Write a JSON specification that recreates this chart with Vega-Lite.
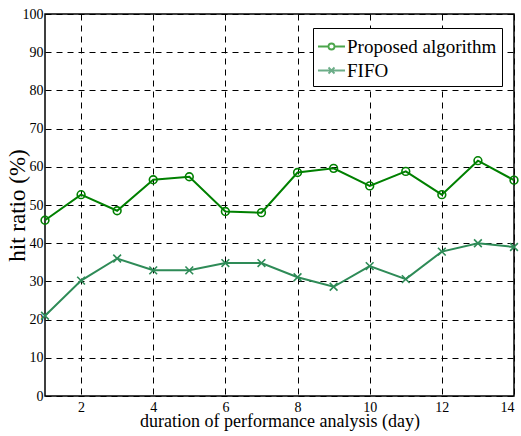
{
  "$schema": "https://vega.github.io/schema/vega-lite/v6.json",
  "width": 469,
  "height": 382,
  "autosize": "none",
  "padding": {"left": 45, "top": 14, "right": 7, "bottom": 40},
  "background": "white",
  "config": {
    "font": "Liberation Serif",
    "view": {"stroke": "black", "strokeWidth": 1.5},
    "axis": {
      "domain": false,
      "ticks": false,
      "grid": true,
      "gridColor": "black",
      "gridOpacity": 1,
      "gridDash": [6, 5],
      "gridWidth": 1,
      "labelFont": "Liberation Serif",
      "labelFontSize": 14,
      "labelColor": "black",
      "titleFont": "Liberation Serif",
      "titleFontSize": 18,
      "titleFontWeight": "normal",
      "titleColor": "black"
    },
    "legend": {
      "orient": "none",
      "legendX": 268,
      "legendY": 14,
      "symbolSize": 625,
      "symbolStrokeWidth": 1.8,
      "symbolFillColor": "transparent",
      "labelFont": "Liberation Serif",
      "labelFontSize": 19,
      "labelColor": "black",
      "labelOffset": 2,
      "rowPadding": 0,
      "padding": 5,
      "strokeColor": "black",
      "fillColor": "white",
      "labelLimit": 300
    }
  },
  "data": {
    "values": [
      {"day": 1, "ratio": 46.0, "series": "Proposed algorithm"},
      {"day": 2, "ratio": 52.7, "series": "Proposed algorithm"},
      {"day": 3, "ratio": 48.5, "series": "Proposed algorithm"},
      {"day": 4, "ratio": 56.6, "series": "Proposed algorithm"},
      {"day": 5, "ratio": 57.4, "series": "Proposed algorithm"},
      {"day": 6, "ratio": 48.3, "series": "Proposed algorithm"},
      {"day": 7, "ratio": 48.0, "series": "Proposed algorithm"},
      {"day": 8, "ratio": 58.5, "series": "Proposed algorithm"},
      {"day": 9, "ratio": 59.6, "series": "Proposed algorithm"},
      {"day": 10, "ratio": 55.0, "series": "Proposed algorithm"},
      {"day": 11, "ratio": 58.8, "series": "Proposed algorithm"},
      {"day": 12, "ratio": 52.7, "series": "Proposed algorithm"},
      {"day": 13, "ratio": 61.6, "series": "Proposed algorithm"},
      {"day": 14, "ratio": 56.5, "series": "Proposed algorithm"},
      {"day": 1, "ratio": 21.0, "series": "FIFO"},
      {"day": 2, "ratio": 30.2, "series": "FIFO"},
      {"day": 3, "ratio": 36.0, "series": "FIFO"},
      {"day": 4, "ratio": 32.9, "series": "FIFO"},
      {"day": 5, "ratio": 32.9, "series": "FIFO"},
      {"day": 6, "ratio": 34.8, "series": "FIFO"},
      {"day": 7, "ratio": 34.8, "series": "FIFO"},
      {"day": 8, "ratio": 31.1, "series": "FIFO"},
      {"day": 9, "ratio": 28.6, "series": "FIFO"},
      {"day": 10, "ratio": 34.0, "series": "FIFO"},
      {"day": 11, "ratio": 30.6, "series": "FIFO"},
      {"day": 12, "ratio": 37.8, "series": "FIFO"},
      {"day": 13, "ratio": 40.0, "series": "FIFO"},
      {"day": 14, "ratio": 39.0, "series": "FIFO"}
    ]
  },
  "encoding": {
    "x": {
      "field": "day",
      "type": "quantitative",
      "scale": {"domain": [1, 14], "nice": false, "zero": false},
      "axis": {"values": [2, 4, 6, 8, 10, 12, 14], "title": "duration of performance analysis (day)", "labelPadding": 4, "titlePadding": -2}
    },
    "y": {
      "field": "ratio",
      "type": "quantitative",
      "scale": {"domain": [0, 100], "nice": false},
      "axis": {"values": [0, 10, 20, 30, 40, 50, 60, 70, 80, 90, 100], "title": "hit ratio (%)", "titleFontSize": 23, "labelPadding": 2, "titlePadding": -7}
    },
    "color": {
      "field": "series",
      "type": "nominal",
      "scale": {"domain": ["Proposed algorithm", "FIFO"], "range": ["#008000", "#2E8B57"]},
      "legend": null
    }
  },
  "layer": [
    {
      "mark": {"type": "line", "strokeWidth": 2}
    },
    {
      "transform": [{"filter": "datum.series === 'Proposed algorithm'"}],
      "mark": {"type": "point", "shape": "circle", "filled": false, "strokeWidth": 1.6, "size": 60, "opacity": 1}
    },
    {
      "transform": [{"filter": "datum.series === 'FIFO'"}],
      "mark": {"type": "point", "shape": "M-1,-1L1,1M-1,1L1,-1", "filled": false, "strokeWidth": 1.6, "size": 60, "opacity": 1}
    },
    {
      "transform": [{"filter": "datum.ratio < -1000"}],
      "mark": {"type": "point", "filled": false, "strokeWidth": 1.8},
      "encoding": {
        "color": {
          "field": "series",
          "type": "nominal",
          "scale": {"domain": ["Proposed algorithm", "FIFO"], "range": ["#008000", "#2E8B57"]},
          "legend": {"title": null}
        },
        "shape": {
          "field": "series",
          "type": "nominal",
          "scale": {
            "domain": ["Proposed algorithm", "FIFO"],
            "range": [
              "M-1.08,0L-0.24,0M0.24,0L1.08,0M0.24,0A0.24,0.24 0 1 1 -0.24,0A0.24,0.24 0 1 1 0.24,0",
              "M-1.08,0L1.08,0M-0.24,-0.24L0.24,0.24M-0.24,0.24L0.24,-0.24"
            ]
          },
          "legend": {"title": null}
        }
      }
    }
  ],
  "resolve": {"legend": {"color": "independent", "shape": "independent"}}
}
